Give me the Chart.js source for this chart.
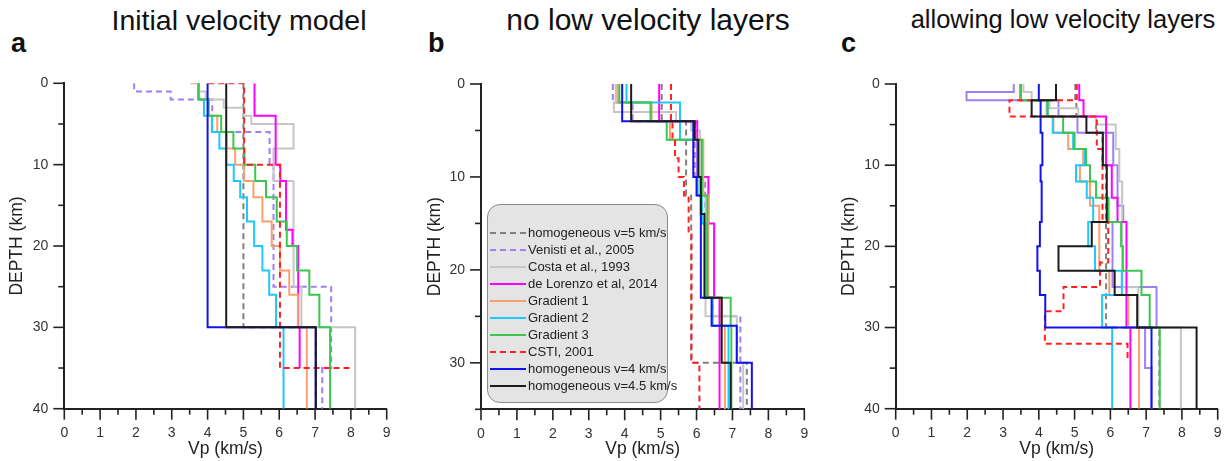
<!DOCTYPE html>
<html>
<head>
<meta charset="utf-8">
<script src="https://cdn.jsdelivr.net/npm/chart.js@4.4.0/dist/chart.umd.min.js"></script>
<style>
  html, body { margin: 0; padding: 0; background: #fff; }
  body { width: 1230px; height: 461px; position: relative; overflow: hidden; font-family: "Liberation Sans", Arial, sans-serif; }
  canvas { position: absolute; top: 0; }
  .title { position: absolute; top: 4px; font-size: 27px; color: #111; transform: translateX(-50%); white-space: nowrap; }
  .letter { position: absolute; top: 28px; font-size: 27px; font-weight: bold; color: #111; }
  #legend { position: absolute; left: 487px; top: 204px; width: 181px; height: 199px; box-sizing: border-box;
            background: #e4e4e4; border: 1px solid #8a8a8a; border-radius: 13px; }
  .row { position: absolute; left: 1px; height: 16px; line-height: 16px; font-size: 13px; color: #222; white-space: nowrap; }
  .row svg { position: absolute; left: 0; top: 0; }
  .row span { position: absolute; left: 39px; top: 0; }
</style>
</head>
<body>
<div class="letter" style="left:11px">a</div>
<div class="letter" style="left:428px">b</div>
<div class="letter" style="left:841px">c</div>
<div class="title" style="left:239px; font-size:28.5px">Initial velocity model</div>
<div class="title" style="left:648px; top:3px; font-size:30px">no low velocity layers</div>
<div class="title" style="left:1063px; top:5px; font-size:25.5px">allowing low velocity layers</div>

<canvas id="chartA" width="400" height="461" style="left:0px"></canvas>
<canvas id="chartB" width="400" height="461" style="left:417px"></canvas>
<canvas id="chartC" width="399" height="461" style="left:831px"></canvas>
<div id="legend"></div>

<script>
// Séries (mesma ordem da legenda)
const seriesNames = ['homogeneous v=5 km/s', 'Venisti et al., 2005', 'Costa et al., 1993', 'de Lorenzo et al, 2014',
  'Gradient 1', 'Gradient 2', 'Gradient 3', 'CSTI, 2001', 'homogeneous v=4 km/s', 'homogeneous v=4.5 km/s'];
const seriesColors = ['#808080', '#a07ff5', '#c6c6c6', '#ff00ff', '#fa9f6e', '#1ec8f8', '#3cc650', '#ff2020', '#1212ee', '#1c1c1c'];
const dashedAB = [true, true, false, false, false, false, false, true, false, false];
const dashedC = [true, false, false, false, false, false, false, true, false, false];

// --- Painel a: modelos iniciais (topo das camadas em km, Vp em km/s) ---
const aHom5Top = [0, 30];                                   const aHom5Vp = [5.0, 7.02];
const aVenTop = [0, 1, 2, 6, 10, 25, 35];                   const aVenVp = [1.95, 2.97, 4.13, 5.73, 5.84, 7.45, 7.2];
const aCostaTop = [0, 1, 2, 3, 4, 5, 8, 12, 25, 30];        const aCostaVp = [3.75, 3.95, 4.45, 5.0, 5.22, 6.4, 5.84, 6.4, 6.62, 8.12];
const aLorTop = [0, 4, 10, 12, 18, 20, 30];                 const aLorVp = [5.31, 5.9, 6.03, 6.19, 6.37, 6.53, 6.57];
const aG1Top = [0, 0, 2, 4, 6, 8, 10, 12, 14, 17, 20, 23, 26, 30];
const aG1Vp = [3.52, 3.76, 4.02, 4.27, 4.53, 4.77, 5.02, 5.28, 5.53, 5.79, 6.02, 6.28, 6.52, 6.77];
const aG2Top = [0, 2, 4, 6, 8, 10, 12, 14, 17, 20, 23, 26, 30];
const aG2Vp = [3.75, 3.9, 4.12, 4.33, 4.52, 4.73, 4.91, 5.1, 5.3, 5.53, 5.72, 5.91, 6.12];
const aG3Top = [0, 2, 4, 6, 8, 10, 12, 14, 17, 20, 23, 26, 30];
const aG3Vp = [3.74, 4.03, 4.38, 4.72, 5.03, 5.33, 5.63, 5.93, 6.21, 6.5, 6.84, 7.12, 7.42];
const aCstiTop = [0, 0, 10, 35];                            const aCstiVp = [4.02, 5.02, 6.02, 8.03];
const aHom4Top = [0, 30];                                   const aHom4Vp = [4.0, 7.02];
const aHom45Top = [0, 30];                                  const aHom45Vp = [4.52, 7.02];
const aBottom = [40, 40, 40, 35, 40, 40, 40, 35, 40, 40];

// --- Painel b: inversão sem camadas de baixa velocidade ---
const bHom5Top = [0, 4, 12, 30];                            const bHom5Vp = [5.03, 5.71, 5.85, 7.4];
const bVenTop = [0, 2, 4, 10, 23, 25];                      const bVenVp = [3.67, 4.22, 5.95, 6.24, 6.45, 7.22];
const bCostaTop = [0, 2, 3, 4, 5, 12, 25, 30];              const bCostaVp = [3.75, 3.7, 5.43, 5.85, 6.1, 6.25, 7.12, 7.3];
const bLorTop = [0, 4, 10, 15, 23];                         const bLorVp = [4.96, 6.02, 6.33, 6.49, 6.64];
const bG1Top = [0, 2, 4, 6, 12, 23, 26];                    const bG1Vp = [3.8, 4.75, 5.26, 6.19, 6.33, 6.7, 6.79];
const bG2Top = [0, 2, 6, 12, 15, 23, 26];                   const bG2Vp = [4.05, 5.54, 6.03, 6.15, 6.28, 6.45, 6.89];
const bG3Top = [0, 2, 4, 6, 12, 23, 26];                    const bG3Vp = [3.85, 4.72, 5.17, 6.15, 6.3, 6.95, 6.97];
const bCstiTop = [0, 4, 6, 8, 10, 12, 16, 30];              const bCstiVp = [5.29, 5.33, 5.4, 5.5, 5.65, 5.78, 5.86, 6.08];
const bHom4Top = [0, 4, 10, 12, 23, 26, 30];                const bHom4Vp = [3.93, 5.91, 6.0, 6.12, 6.42, 7.12, 7.54];
const bHom45Top = [0, 4, 6, 10, 14, 23, 30];                const bHom45Vp = [4.18, 5.95, 6.05, 6.12, 6.22, 6.7, 6.95];
const bBottom = [35, 35, 35, 35, 35, 35, 35, 35, 35, 35];

// --- Painel c: inversão permitindo camadas de baixa velocidade ---
const cHom5Top = [0, 2, 4, 6, 10, 30];                      const cHom5Vp = [5.02, 5.05, 5.6, 5.78, 5.88, 7.37];
const cVenTop = [0, 1, 2, 4, 6, 10, 15, 17, 25, 30, 35];    const cVenVp = [3.3, 1.98, 4.55, 5.08, 6.08, 6.2, 6.36, 6.06, 7.29, 6.97, 7.15];
const cCostaTop = [0, 1, 2, 3, 4, 5, 8, 12, 25, 30];        const cCostaVp = [3.57, 3.8, 4.3, 5.1, 5.6, 6.15, 6.25, 6.33, 6.78, 7.97];
const cLorTop = [0, 2, 4, 10, 14, 17, 30];                  const cLorVp = [5.13, 5.25, 5.88, 6.04, 6.2, 6.45, 6.56];
const cG1Top = [0, 2, 4, 6, 8, 10, 12, 15, 23, 26, 30];     const cG1Vp = [3.47, 4.22, 4.41, 4.82, 5.24, 5.15, 5.43, 5.69, 5.97, 6.5, 6.8];
const cG2Top = [0, 2, 4, 6, 8, 10, 12, 14, 17, 20, 23, 26, 30];
const cG2Vp = [3.49, 4.24, 4.39, 4.96, 5.29, 5.04, 5.34, 5.52, 5.38, 5.57, 6.32, 5.77, 6.05];
const cG3Top = [0, 2, 4, 6, 8, 10, 12, 14, 17, 20, 23, 26, 30];
const cG3Vp = [3.5, 4.25, 4.68, 5.0, 5.32, 5.43, 5.6, 5.95, 6.3, 6.35, 6.87, 7.1, 7.38];
const cCstiTop = [0, 2, 4, 8, 17, 22, 25, 28, 32];          const cCstiVp = [5.06, 3.18, 5.62, 5.78, 5.94, 5.71, 4.69, 4.17, 6.48];
const cHom4Top = [0, 2, 6, 10, 12, 17, 20, 23, 26, 30];     const cHom4Vp = [4.0, 4.05, 4.1, 4.05, 4.08, 4.03, 3.96, 4.03, 4.18, 7.15];
const cHom45Top = [0, 2, 4, 6, 10, 17, 20, 23, 26, 30];     const cHom45Vp = [4.48, 3.8, 5.33, 5.79, 5.9, 5.48, 4.55, 6.12, 6.75, 8.41];
const cBottom = [40, 40, 40, 40, 40, 40, 40, 34, 40, 40];

// Converte camadas em pontos de um perfil em degraus
function steps(tops, vps, bottom) {
    const pts = [];
    tops.forEach((t, i) => {
        const base = i + 1 < tops.length ? tops[i + 1] : bottom;
        pts.push({ x: vps[i], y: t }, { x: vps[i], y: base });
    });
    return pts;
}

// Marcas de escala (maiores e menores) desenhadas à mão
const tickMarks = {
    id: 'tickMarks',
    afterDraw(chart) {
        const { ctx, scales: { x, y } } = chart;
        ctx.save();
        ctx.strokeStyle = '#222';
        ctx.lineWidth = 1.6;
        for (let k = 0; k <= 18; k++) {
            const px = x.getPixelForValue(k / 2);
            const len = k % 2 === 0 ? 11 : 6;
            ctx.beginPath(); ctx.moveTo(px, x.top); ctx.lineTo(px, x.top + len); ctx.stroke();
        }
        for (let d = 0; d <= y.max; d += 5) {
            const py = y.getPixelForValue(d);
            const len = d % 10 === 0 ? 11 : 6;
            ctx.beginPath(); ctx.moveTo(y.right - len, py); ctx.lineTo(y.right, py); ctx.stroke();
        }
        ctx.restore();
    }
};

function makePanel(canvasId, tops, vps, bottoms, dashed, yMax, geom) {
    const datasets = tops.map((t, i) => ({
        label: seriesNames[i],
        data: steps(t, vps[i], bottoms[i]),
        showLine: true,
        borderColor: seriesColors[i],
        borderWidth: 2,
        borderDash: dashed[i] ? [6, 4] : [],
        pointRadius: 0,
        fill: false,
        tension: 0,
        order: 10 - i
    }));
    const font = { family: '"Liberation Sans", Arial, sans-serif' };
    new Chart(document.getElementById(canvasId), {
        type: 'scatter',
        data: { datasets },
        options: {
            responsive: false, animation: false, devicePixelRatio: 1,
            layout: { padding: { left: 0, right: geom.right, top: geom.top, bottom: 0 } },
            plugins: { legend: { display: false }, tooltip: { enabled: false } },
            scales: {
                x: {
                    type: 'linear', min: 0, max: 9,
                    grid: { display: false, drawTicks: true, tickLength: 11 },
                    border: { display: true, color: '#222', width: 2 },
                    ticks: { stepSize: 1, padding: 5, color: '#333', font: { ...font, size: 14 } },
                    title: { display: true, text: 'Vp (km/s)', color: '#222', font: { ...font, size: 17.5 }, padding: { top: 0, bottom: 1 } },
                    afterFit: (s) => { s.height = geom.xh; }
                },
                y: {
                    type: 'linear', min: 0, max: yMax, reverse: true,
                    grid: { display: false, drawTicks: true, tickLength: 11 },
                    border: { display: true, color: '#222', width: 2 },
                    ticks: { stepSize: 10, padding: 5, color: '#333', font: { ...font, size: 14 },
                             callback: (v) => (v % 10 === 0 ? v : '') },
                    title: { display: true, text: 'DEPTH (km)', color: '#222', font: { ...font, size: 17.5 }, padding: { top: geom.yt, bottom: 0 } },
                    afterFit: (s) => { s.width = geom.yw; }
                }
            }
        },
        plugins: [tickMarks]
    });
}

makePanel('chartA',
    [aHom5Top, aVenTop, aCostaTop, aLorTop, aG1Top, aG2Top, aG3Top, aCstiTop, aHom4Top, aHom45Top],
    [aHom5Vp, aVenVp, aCostaVp, aLorVp, aG1Vp, aG2Vp, aG3Vp, aCstiVp, aHom4Vp, aHom45Vp],
    aBottom, dashedAB, 40, { right: 13.3, top: 83.3, xh: 52.3, yw: 64.3, yt: 6.5 });

makePanel('chartB',
    [bHom5Top, bVenTop, bCostaTop, bLorTop, bG1Top, bG2Top, bG3Top, bCstiTop, bHom4Top, bHom45Top],
    [bHom5Vp, bVenVp, bCostaVp, bLorVp, bG1Vp, bG2Vp, bG3Vp, bCstiVp, bHom4Vp, bHom45Vp],
    bBottom, dashedAB, 35, { right: 12.7, top: 84, xh: 51.7, yw: 64, yt: 8 });

makePanel('chartC',
    [cHom5Top, cVenTop, cCostaTop, cLorTop, cG1Top, cG2Top, cG3Top, cCstiTop, cHom4Top, cHom45Top],
    [cHom5Vp, cVenVp, cCostaVp, cLorVp, cG1Vp, cG2Vp, cG3Vp, cCstiVp, cHom4Vp, cHom45Vp],
    cBottom, dashedC, 40, { right: 12.3, top: 84, xh: 52.3, yw: 64.7, yt: 8 });

// Legenda do painel b (caixa cinza arredondada)
const legendEl = document.getElementById('legend');
seriesNames.forEach((name, i) => {
    const row = document.createElement('div');
    row.className = 'row';
    row.style.top = (20 + i * 17) + 'px';
    const dash = dashedAB[i] ? 'stroke-dasharray="6,4"' : '';
    row.innerHTML = `<svg width="38" height="16"><line x1="1" y1="8" x2="37" y2="8" stroke="${seriesColors[i]}" stroke-width="2" ${dash}/></svg><span>${name}</span>`;
    legendEl.appendChild(row);
});
</script>
</body>
</html>
